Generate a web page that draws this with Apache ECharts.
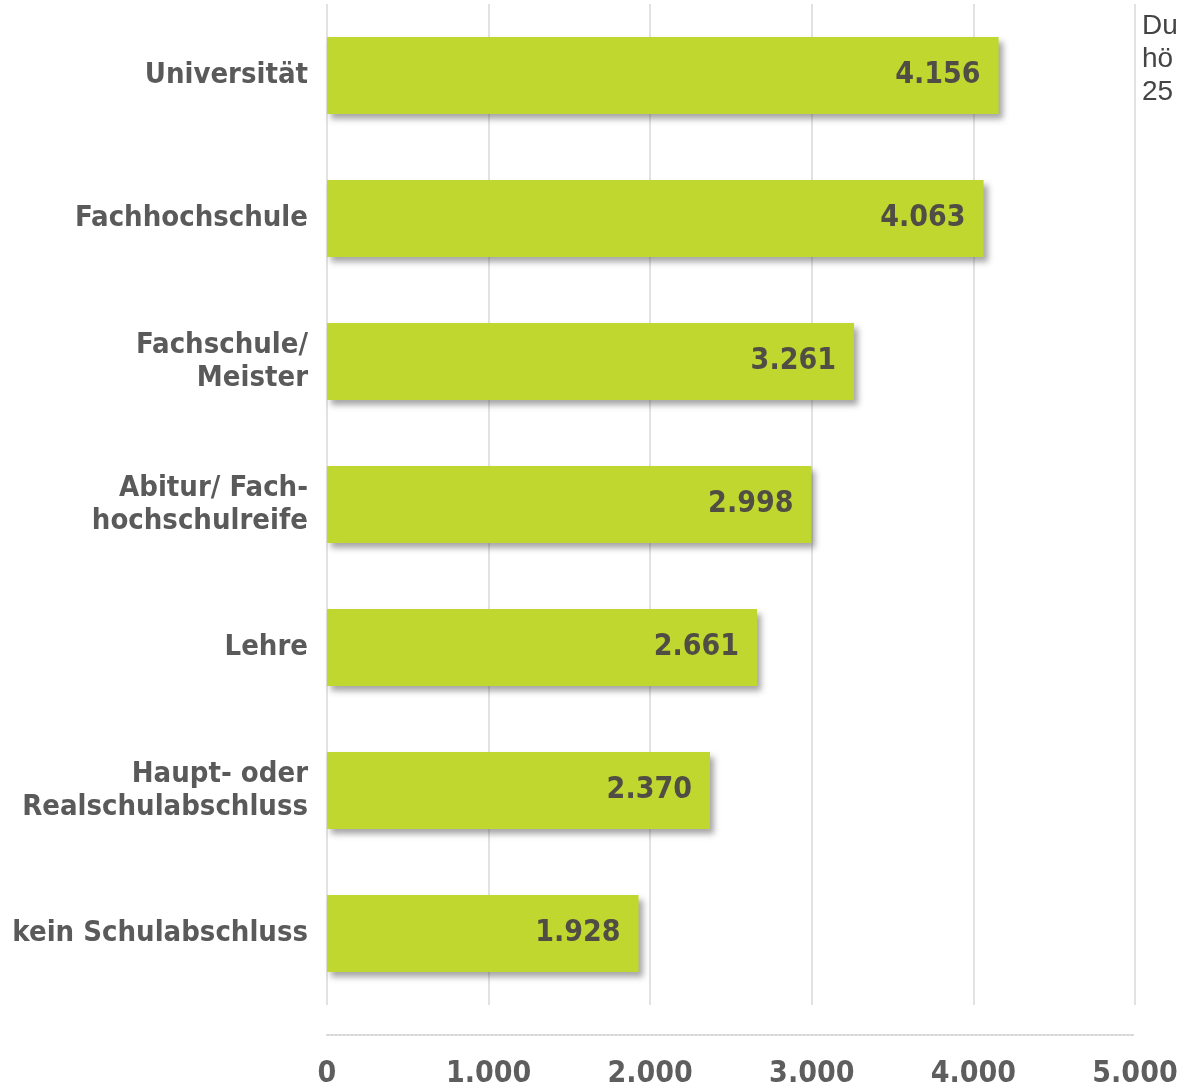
<!DOCTYPE html>
<html>
<head>
<meta charset="utf-8">
<script src="https://cdn.jsdelivr.net/npm/echarts@6/dist/echarts.min.js"></script>
<style>
  html, body { margin: 0; padding: 0; background: #ffffff; }
  #chart { width: 1178px; height: 1087px; }
</style>
</head>
<body>
<div id="chart"></div>
<script>
// Bildungsabschluss -> Einkommen
const categories = [
  'Universität',
  'Fachhochschule',
  'Fachschule/\nMeister',
  'Abitur/ Fach-\nhochschulreife',
  'Lehre',
  'Haupt- oder\nRealschulabschluss',
  'kein Schulabschluss'
]
const values = [4156, 4063, 3261, 2998, 2661, 2370, 1928]
const sideNote = 'Du\nhö\n25'

const condensed = '"Liberation Sans Narrow", "DejaVu Sans Condensed", "Roboto Condensed", sans-serif'

const fmt = v => String(v).replace(/\B(?=(\d{3})+(?!\d))/g, '.')

const chart = echarts.init(document.getElementById('chart'))

chart.setOption({
  backgroundColor: '#ffffff',
  animation: false,
  grid: {
    left: 327,
    right: 43,
    top: 4,
    bottom: 82,
    containLabel: false,
    outerBoundsMode: 'none'
  },
  xAxis: {
    type: 'value',
    min: 0,
    max: 5000,
    interval: 1000,
    offset: 30,
    axisLine: {
      show: true,
      lineStyle: { color: '#d6d6d6', width: 2, type: 'dotted' }
    },
    axisTick: { show: false },
    axisLabel: {
      color: '#5e5e5e',
      fontFamily: condensed,
      fontWeight: 'bold',
      fontSize: 30,
      margin: 24,
      formatter: fmt
    },
    splitLine: {
      show: true,
      lineStyle: { color: '#e2e2e2', width: 2 }
    }
  },
  yAxis: {
    type: 'category',
    inverse: true,
    data: categories,
    axisLine: { show: false },
    axisTick: { show: false },
    axisLabel: {
      color: '#5a5a5a',
      fontFamily: condensed,
      fontWeight: 'bold',
      fontSize: 29,
      lineHeight: 33,
      margin: 19,
      align: 'right'
    }
  },
  series: [{
    type: 'bar',
    data: values,
    barWidth: 77,
    itemStyle: {
      color: '#c0d72f',
      shadowColor: 'rgba(60, 60, 60, 0.45)',
      shadowBlur: 6,
      shadowOffsetX: 4,
      shadowOffsetY: 5
    },
    label: {
      show: true,
      position: 'insideRight',
      distance: 18,
      color: '#4e4e44',
      fontFamily: condensed,
      fontWeight: 'bold',
      fontSize: 30,
      formatter: p => fmt(p.value)
    }
  }],
  graphic: [{
    type: 'text',
    left: 1142,
    top: 10,
    style: {
      text: sideNote,
      fill: '#444444',
      font: '28px "Liberation Sans", Arial, sans-serif',
      lineHeight: 33
    }
  }]
})
</script>
</body>
</html>
